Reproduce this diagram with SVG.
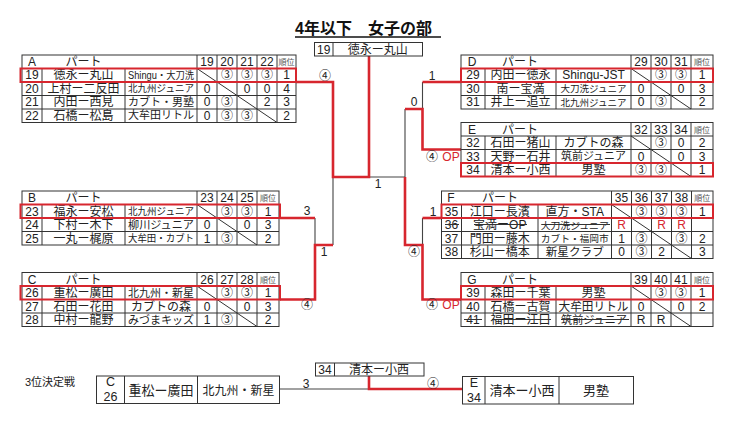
<svg xmlns="http://www.w3.org/2000/svg" width="740" height="436" viewBox="0 0 740 436">
<style>
.t{font-family:"Liberation Sans","Noto Sans CJK JP",sans-serif;font-size:12px;fill:#222;text-anchor:middle}
.h{font-size:8px;fill:#555}
.c95{font-size:9.5px}.c10{font-size:10px}.c11{font-size:11px}
.st{text-anchor:start}
.red{fill:#d7262e}
.g{fill:none;stroke:#333;stroke-width:1}
.rr{fill:none;stroke:#d7262e;stroke-width:2}
.rl{fill:none;stroke:#d7262e;stroke-width:2.6}
.bl{fill:none;stroke:#444;stroke-width:1.1}
.title{font-family:"Liberation Sans","Noto Sans CJK JP",sans-serif;font-size:16px;font-weight:bold;fill:#111}
</style>
<rect width="740" height="436" fill="#fff"/>
<g id="title">
<text class="title" x="295" y="34">4年以下　女子の部</text>
<path d="M295 37H441" stroke="#111" stroke-width="1.5"/>
</g>
<g id="connectors">
<path class="bl" d="M333 177V245M315 218V245M422.5 82V109M405 109V177H369M422.5 218V245"/>
<path class="rl" d="M296 82H333V177H369V56"/>
<path class="rl" d="M280 218H315"/>
<path class="rl" d="M280 299.5H315V245H333"/>
<path class="rl" d="M461 82H422.5"/>
<path class="rl" d="M461 149.5H422.5V109H405"/>
<path class="rl" d="M441.5 218H422.5"/>
<path class="rl" d="M461 299.5H422.5V245H405V177"/>
<path class="bl" d="M279.5 389H369"/>
<path class="rl" d="M369 376V389H462.5"/>
</g>
<g id="labels">
<text class="t" x="325" y="80">④</text>
<text class="t" x="307" y="215">3</text>
<text class="t" x="324" y="256">1</text>
<text class="t" x="307" y="309">④</text>
<text class="t" x="378" y="188">1</text>
<text class="t" x="432" y="80">1</text>
<text class="t" x="414" y="106">0</text>
<text class="t" x="432" y="161">④</text><text class="t red" x="451" y="161">OP</text>
<text class="t" x="433" y="216">1</text>
<text class="t" x="414" y="256">④</text>
<text class="t" x="432" y="309">④</text><text class="t red" x="451" y="309">OP</text>
<text class="t" x="306" y="387.5">3</text>
<text class="t" x="433" y="387.5">④</text>
</g>
<g id="final-box">
<rect class="g" x="314.5" y="42.5" width="108" height="13.5"/>
<path class="g" d="M333 42.5V56"/>
<text class="t" x="323.75" y="53.5">19</text>
<text class="t" x="377.75" y="53.5">徳永ー丸山</text>
</g>
<g id="group-A">
<rect class="g" x="22" y="55" width="274" height="67.5"/>
<path class="g" d="M22 68.5H296M22 82H296M22 95.5H296M22 109H296M42 68.5V122.5M125 68.5V122.5M197 55V122.5M217 55V122.5M237 55V122.5M257 55V122.5M277 55V122.5"/>
<path class="g" d="M197 68.5L217 82M217 82L237 95.5M237 95.5L257 109M257 109L277 122.5"/>
<text class="t" x="32" y="66">A</text><text class="t" x="83.5" y="66">パート</text>
<text class="t" x="207" y="66">19</text><text class="t" x="227" y="66">20</text><text class="t" x="247" y="66">21</text><text class="t" x="267" y="66">22</text><text class="t h" x="286.5" y="65">順位</text>
<text class="t" x="32" y="79">19</text><text class="t" x="83.5" y="79">徳永ー丸山</text><text class="t c10" x="161" y="78.5" textLength="66" lengthAdjust="spacingAndGlyphs">Shingu・大刀洗</text>
<text class="t" x="227" y="79">③</text><text class="t" x="247" y="79">③</text><text class="t" x="267" y="79">③</text><text class="t" x="286.5" y="79">1</text>
<text class="t" x="32" y="92.5">20</text><text class="t" x="83.5" y="92.5">上村ー二反田</text><text class="t c10" x="161" y="92" textLength="66" lengthAdjust="spacingAndGlyphs">北九州ジュニア</text>
<text class="t" x="207" y="92.5">0</text><text class="t" x="247" y="92.5">0</text><text class="t" x="267" y="92.5">0</text><text class="t" x="286.5" y="92.5">4</text>
<text class="t" x="32" y="106">21</text><text class="t" x="83.5" y="106">内田ー西見</text><text class="t c11" x="161" y="105.5" textLength="66" lengthAdjust="spacingAndGlyphs">カブト・男塾</text>
<text class="t" x="207" y="106">0</text><text class="t" x="227" y="106">③</text><text class="t" x="267" y="106">2</text><text class="t" x="286.5" y="106">3</text>
<text class="t" x="32" y="119.5">22</text><text class="t" x="83.5" y="119.5">石橋ー松島</text><text class="t c11" x="161" y="119" textLength="66" lengthAdjust="spacingAndGlyphs">大牟田リトル</text>
<text class="t" x="207" y="119.5">0</text><text class="t" x="227" y="119.5">③</text><text class="t" x="247" y="119.5">③</text><text class="t" x="286.5" y="119.5">2</text>
<rect class="rr" x="20.5" y="68.5" width="275.5" height="13.5"/>
</g>
<g id="group-B">
<rect class="g" x="22" y="191" width="257" height="54"/>
<path class="g" d="M22 204.5H279M22 218H279M22 231.5H279M42 204.5V245M125 204.5V245M197 191V245M217 191V245M237 191V245M257 191V245"/>
<path class="g" d="M197 204.5L217 218M217 218L237 231.5M237 231.5L257 245"/>
<text class="t" x="32" y="202">B</text><text class="t" x="83.5" y="202">パート</text>
<text class="t" x="207" y="202">23</text><text class="t" x="227" y="202">24</text><text class="t" x="247" y="202">25</text><text class="t h" x="268" y="201">順位</text>
<text class="t" x="32" y="215.5">23</text><text class="t" x="83.5" y="215.5">福永ー安松</text><text class="t c10" x="161" y="215" textLength="66" lengthAdjust="spacingAndGlyphs">北九州ジュニア</text>
<text class="t" x="227" y="215.5">③</text><text class="t" x="247" y="215.5">③</text><text class="t" x="268" y="215.5">1</text>
<text class="t" x="32" y="229">24</text><text class="t" x="83.5" y="229">下村ー木下</text><text class="t c11" x="161" y="228.5" textLength="66" lengthAdjust="spacingAndGlyphs">柳川ジュニア</text>
<text class="t" x="207" y="229">0</text><text class="t" x="247" y="229">0</text><text class="t" x="268" y="229">3</text>
<text class="t" x="32" y="242.5">25</text><text class="t" x="83.5" y="242.5">一丸ー梶原</text><text class="t c10" x="161" y="242" textLength="66" lengthAdjust="spacingAndGlyphs">大牟田・カブト</text>
<text class="t" x="207" y="242.5">1</text><text class="t" x="227" y="242.5">③</text><text class="t" x="268" y="242.5">2</text>
<rect class="rr" x="20.5" y="204.5" width="259.5" height="13.5"/>
</g>
<g id="group-C">
<rect class="g" x="22" y="272.5" width="257" height="54"/>
<path class="g" d="M22 286H279M22 299.5H279M22 313H279M42 286V326.5M125 286V326.5M197 272.5V326.5M217 272.5V326.5M237 272.5V326.5M257 272.5V326.5"/>
<path class="g" d="M197 286L217 299.5M217 299.5L237 313M237 313L257 326.5"/>
<text class="t" x="32" y="283.5">C</text><text class="t" x="83.5" y="283.5">パート</text>
<text class="t" x="207" y="283.5">26</text><text class="t" x="227" y="283.5">27</text><text class="t" x="247" y="283.5">28</text><text class="t h" x="268" y="282.5">順位</text>
<text class="t" x="32" y="297">26</text><text class="t" x="83.5" y="297">重松ー廣田</text><text class="t c11" x="161" y="296.5" textLength="66" lengthAdjust="spacingAndGlyphs">北九州・新星</text>
<text class="t" x="227" y="297">③</text><text class="t" x="247" y="297">③</text><text class="t" x="268" y="297">1</text>
<text class="t" x="32" y="310.5">27</text><text class="t" x="83.5" y="310.5">石田ー花田</text><text class="t" x="161" y="310.5">カブトの森</text>
<text class="t" x="207" y="310.5">0</text><text class="t" x="247" y="310.5">0</text><text class="t" x="268" y="310.5">3</text>
<text class="t" x="32" y="324">28</text><text class="t" x="83.5" y="324">中村ー龍野</text><text class="t c11" x="161" y="323.5" textLength="66" lengthAdjust="spacingAndGlyphs">みづまキッズ</text>
<text class="t" x="207" y="324">1</text><text class="t" x="227" y="324">③</text><text class="t" x="268" y="324">2</text>
<rect class="rr" x="20.5" y="286" width="259.5" height="13.5"/>
</g>
<g id="group-D">
<rect class="g" x="461" y="55" width="252" height="54"/>
<path class="g" d="M461 68.5H713M461 82H713M461 95.5H713M485 68.5V109M556 68.5V109M631 55V109M651 55V109M671 55V109M691 55V109"/>
<path class="g" d="M631 68.5L651 82M651 82L671 95.5M671 95.5L691 109"/>
<text class="t" x="472" y="66">D</text><text class="t" x="520" y="66">パート</text>
<text class="t" x="641" y="66">29</text><text class="t" x="661" y="66">30</text><text class="t" x="681" y="66">31</text><text class="t h" x="702" y="65">順位</text>
<text class="t" x="473" y="79">29</text><text class="t" x="520.5" y="79">内田ー徳永</text><text class="t" x="593.5" y="79">Shingu-JST</text>
<text class="t" x="661" y="79">③</text><text class="t" x="681" y="79">③</text><text class="t" x="702" y="79">1</text>
<text class="t" x="473" y="92.5">30</text><text class="t" x="520.5" y="92.5">南ー宝満</text><text class="t c95" x="593.5" y="92" textLength="66" lengthAdjust="spacingAndGlyphs">大刀洗ジュニア</text>
<text class="t" x="641" y="92.5">0</text><text class="t" x="681" y="92.5">0</text><text class="t" x="702" y="92.5">3</text>
<text class="t" x="473" y="106">31</text><text class="t" x="520.5" y="106">井上ー追立</text><text class="t c95" x="593.5" y="105.5" textLength="66" lengthAdjust="spacingAndGlyphs">北九州ジュニア</text>
<text class="t" x="641" y="106">0</text><text class="t" x="661" y="106">③</text><text class="t" x="702" y="106">2</text>
<rect class="rr" x="461" y="68.5" width="252" height="13.5"/>
</g>
<g id="group-E">
<rect class="g" x="461" y="122.5" width="252" height="54"/>
<path class="g" d="M461 136H713M461 149.5H713M461 163H713M485 136V176.5M556 136V176.5M631 122.5V176.5M651 122.5V176.5M671 122.5V176.5M691 122.5V176.5"/>
<path class="g" d="M631 136L651 149.5M651 149.5L671 163M671 163L691 176.5"/>
<text class="t" x="472" y="133.5">E</text><text class="t" x="520" y="133.5">パート</text>
<text class="t" x="641" y="133.5">32</text><text class="t" x="661" y="133.5">33</text><text class="t" x="681" y="133.5">34</text><text class="t h" x="702" y="132.5">順位</text>
<text class="t" x="473" y="147">32</text><text class="t" x="520.5" y="147">石田ー猪山</text><text class="t" x="593.5" y="147">カブトの森</text>
<text class="t" x="661" y="147">③</text><text class="t" x="681" y="147">0</text><text class="t" x="702" y="147">2</text>
<text class="t" x="473" y="160.5">33</text><text class="t" x="520.5" y="160.5">天野ー石井</text><text class="t c11" x="593.5" y="160" textLength="65" lengthAdjust="spacingAndGlyphs">筑前ジュニア</text>
<text class="t" x="641" y="160.5">0</text><text class="t" x="681" y="160.5">0</text><text class="t" x="702" y="160.5">3</text>
<text class="t" x="473" y="174">34</text><text class="t" x="520.5" y="174">清本ー小西</text><text class="t" x="593.5" y="174">男塾</text>
<text class="t" x="641" y="174">③</text><text class="t" x="661" y="174">③</text><text class="t" x="702" y="174">1</text>
<rect class="rr" x="461" y="163" width="252" height="13.5"/>
</g>
<g id="group-F">
<rect class="g" x="441.5" y="191" width="271.5" height="67.5"/>
<path class="g" d="M441.5 204.5H713M441.5 218H713M441.5 231.5H713M441.5 245H713M461.5 204.5V258.5M538 204.5V258.5M611.5 191V258.5M631.5 191V258.5M651.5 191V258.5M671.5 191V258.5M691.5 191V258.5"/>
<path class="g" d="M611.5 204.5L631.5 218M631.5 218L651.5 231.5M651.5 231.5L671.5 245M671.5 245L691.5 258.5"/>
<text class="t" x="451" y="202">F</text><text class="t" x="500" y="202">パート</text>
<text class="t" x="621.5" y="202">35</text><text class="t" x="641.5" y="202">36</text><text class="t" x="661.5" y="202">37</text><text class="t" x="681.5" y="202">38</text><text class="t h" x="702.25" y="201">順位</text>
<text class="t" x="451.5" y="215.5">35</text><text class="t" x="499.75" y="215.5">江口ー長濱</text><text class="t" x="574.75" y="215.5">直方・STA</text>
<text class="t" x="641.5" y="215.5">③</text><text class="t" x="661.5" y="215.5">③</text><text class="t" x="681.5" y="215.5">③</text><text class="t" x="702.25" y="215.5">1</text>
<text class="t" x="451.5" y="229">36</text><text class="t" x="499.75" y="229">宝満ーOP</text><text class="t c95" x="574.75" y="228.5" textLength="68" lengthAdjust="spacingAndGlyphs">大刀洗ジュニア</text>
<text class="t red" x="621.5" y="229">R</text><text class="t red" x="661.5" y="229">R</text><text class="t red" x="681.5" y="229">R</text>
<path d="M445 224.5H459M474 224.5H527M541.5 224.5H610" stroke="#333" stroke-width="1"/>
<text class="t" x="451.5" y="242.5">37</text><text class="t" x="499.75" y="242.5">門田ー藤木</text><text class="t c95" x="574.75" y="242" textLength="68" lengthAdjust="spacingAndGlyphs">カブト・福岡市</text>
<text class="t" x="621.5" y="242.5">1</text><text class="t" x="641.5" y="242.5">③</text><text class="t" x="681.5" y="242.5">③</text><text class="t" x="702.25" y="242.5">2</text>
<text class="t" x="451.5" y="256">38</text><text class="t" x="499.75" y="256">杉山ー橋本</text><text class="t c11" x="574.75" y="255.5" textLength="58" lengthAdjust="spacingAndGlyphs">新星クラブ</text>
<text class="t" x="621.5" y="256">0</text><text class="t" x="641.5" y="256">③</text><text class="t" x="661.5" y="256">2</text><text class="t" x="702.25" y="256">3</text>
<rect class="rr" x="441.5" y="204.5" width="271.5" height="13.5"/>
</g>
<g id="group-G">
<rect class="g" x="461" y="272.5" width="252" height="54"/>
<path class="g" d="M461 286H713M461 299.5H713M461 313H713M485 286V326.5M556 286V326.5M631 272.5V326.5M651 272.5V326.5M671 272.5V326.5M691 272.5V326.5"/>
<path class="g" d="M631 286L651 299.5M651 299.5L671 313M671 313L691 326.5"/>
<text class="t" x="472" y="283.5">G</text><text class="t" x="520" y="283.5">パート</text>
<text class="t" x="641" y="283.5">39</text><text class="t" x="661" y="283.5">40</text><text class="t" x="681" y="283.5">41</text><text class="t h" x="702" y="282.5">順位</text>
<text class="t" x="473" y="297">39</text><text class="t" x="520.5" y="297">森田ー千葉</text><text class="t" x="593.5" y="297">男塾</text>
<text class="t" x="661" y="297">③</text><text class="t" x="681" y="297">③</text><text class="t" x="702" y="297">1</text>
<text class="t" x="473" y="310.5">40</text><text class="t" x="520.5" y="310.5">石橋ー古賀</text><text class="t" x="593.5" y="310.5" textLength="70" lengthAdjust="spacingAndGlyphs">大牟田リトル</text>
<text class="t" x="641" y="310.5">0</text><text class="t" x="681" y="310.5">0</text><text class="t" x="702" y="310.5">2</text>
<text class="t" x="473" y="324">41</text><text class="t" x="520.5" y="324">福田ー江口</text><text class="t c11" x="594" y="323.5" textLength="66" lengthAdjust="spacingAndGlyphs">筑前ジュニア</text>
<text class="t" x="641" y="324">R</text><text class="t" x="661" y="324">R</text>
<path d="M464 319.5H482M492 319.5H551M561 319.5H629" stroke="#333" stroke-width="1"/>
<rect class="rr" x="461" y="286" width="252" height="13.5"/>
</g>
<g id="third-place">
<text class="t st c11" x="25" y="386">3位決定戦</text>
</g>
<g id="third-left">
<rect class="g" x="96.5" y="376" width="183" height="27.5"/>
<path class="g" d="M124.5 376V403.5M197.5 376V403.5"/>
<text class="t" x="110.5" y="386" style="font-size:12.5px">C</text>
<text class="t" x="110.5" y="401" style="font-size:12.5px">26</text>
<text class="t" x="161" y="394.5" style="font-size:13px">重松ー廣田</text>
<text class="t" x="238.5" y="394.5">北九州・新星</text>
</g>
<g id="third-top">
<rect class="g" x="315.5" y="363" width="108.5" height="13"/>
<path class="g" d="M334.5 363V376"/>
<text class="t" x="325" y="373.5">34</text>
<text class="t" x="379" y="373.5">清本ー小西</text>
</g>
<g id="third-right">
<rect class="g" x="462.5" y="376.5" width="171" height="27.5"/>
<path class="g" d="M485 376.5V404M559 376.5V404"/>
<text class="t" x="474" y="386.5" style="font-size:12.5px">E</text>
<text class="t" x="474" y="401.5" style="font-size:12.5px">34</text>
<text class="t" x="522" y="395" style="font-size:13px">清本ー小西</text>
<text class="t" x="596" y="395" style="font-size:13px">男塾</text>
</g>
</svg>
